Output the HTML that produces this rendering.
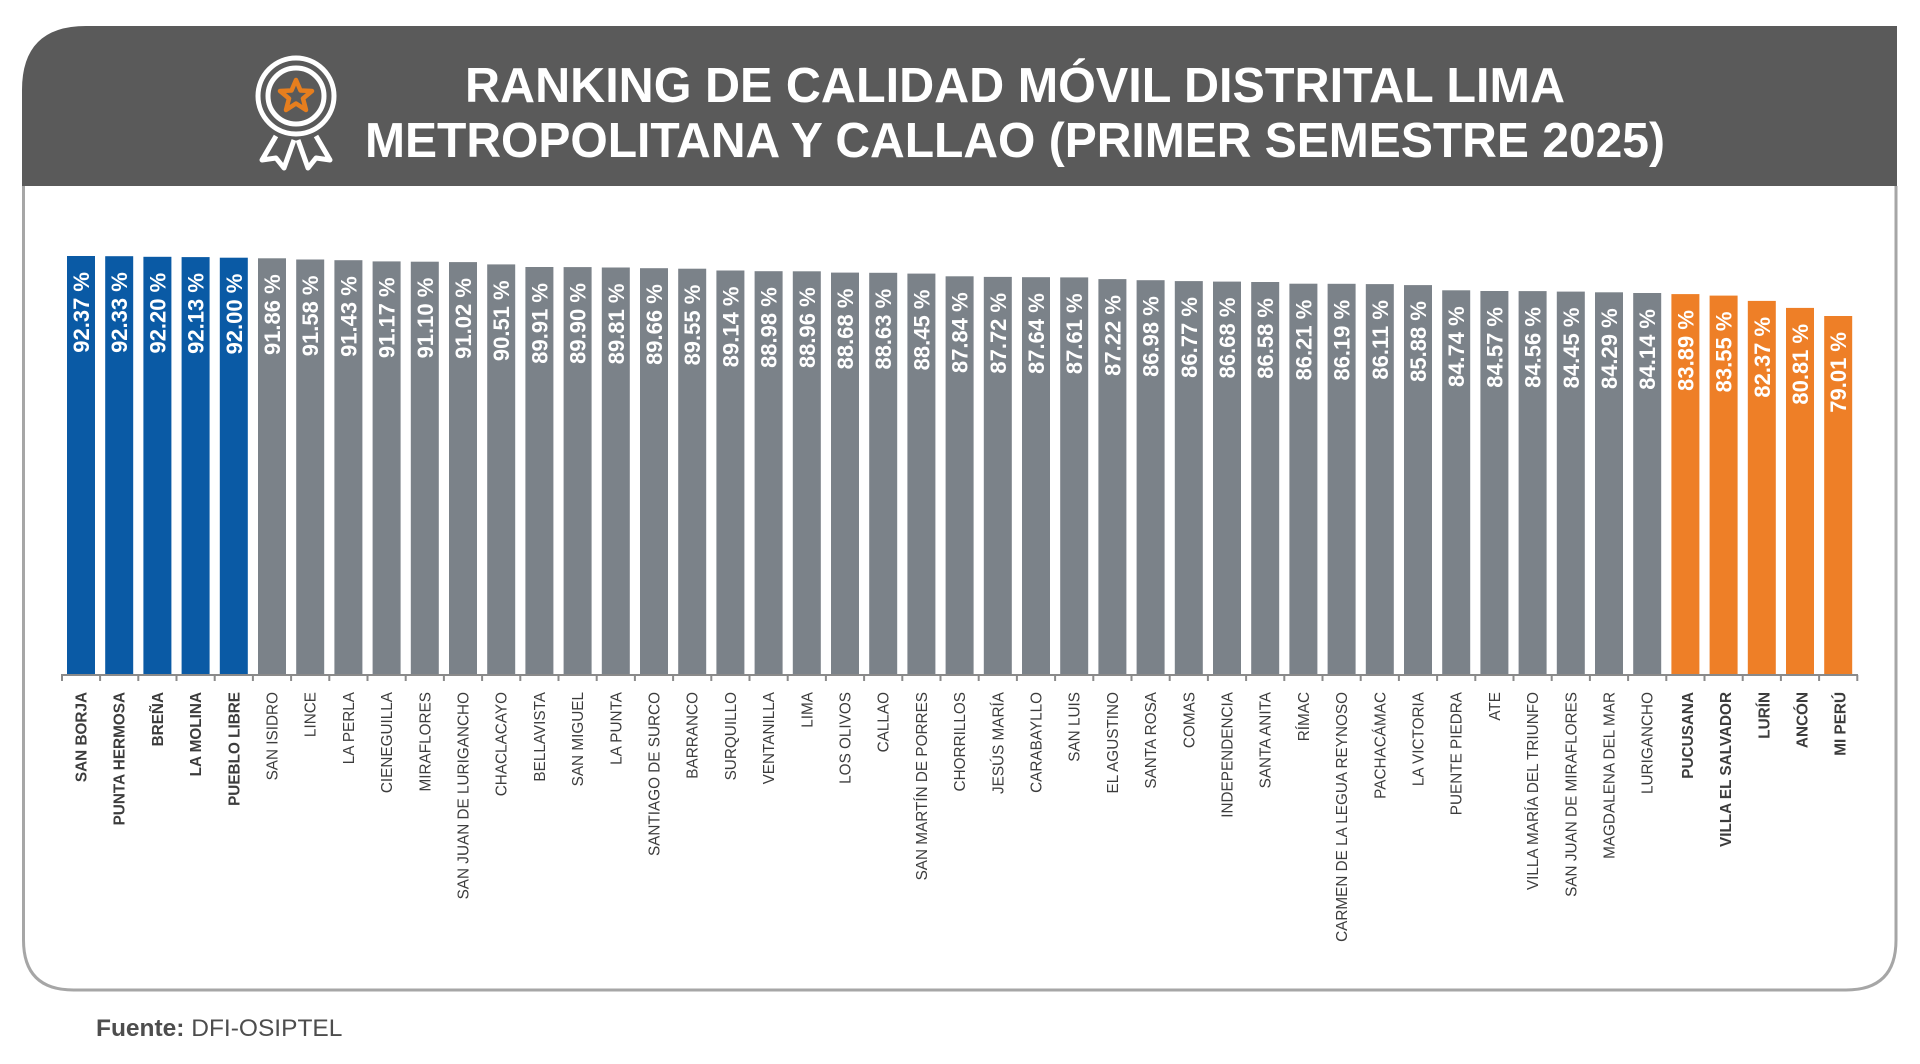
<!DOCTYPE html>
<html><head><meta charset="utf-8"><style>
html,body{margin:0;padding:0;background:#fff;}
svg{display:block;}
</style></head><body>
<svg width="1920" height="1064" viewBox="0 0 1920 1064" xmlns="http://www.w3.org/2000/svg" font-family="'Liberation Sans', sans-serif">
<path d="M23.5,186 L23.5,940 Q23.5,990 73.5,990 L1846,990 Q1896,990 1896,940 L1896,186" fill="#fff" stroke="#a6a6a6" stroke-width="3"/>
<path d="M22,186 L22,90 Q22,26 86,26 L1897,26 L1897,186 Z" fill="#5a5a5a"/>
<g fill="none" stroke="#fff" stroke-width="5" stroke-linejoin="round">
<path d="M276,136 L262,160 L276,158 L284,168 L294,140"/>
<path d="M316,136 L330,160 L316,158 L308,168 L298,140"/>
<circle cx="296" cy="96" r="38" fill="#5a5a5a"/>
<circle cx="296" cy="96" r="28"/>
</g>
<polygon points="296,80 300.5,90.5 312,91 303,98.5 306,110 296,103.5 286,110 289,98.5 280,91 291.5,90.5" fill="none" stroke="#e67e1e" stroke-width="4.5" stroke-linejoin="round"/>
<g fill="#fff" font-weight="bold" font-size="49" text-anchor="middle">
<text x="1015" y="102" textLength="1100" lengthAdjust="spacingAndGlyphs">RANKING DE CALIDAD MÓVIL DISTRITAL LIMA</text>
<text x="1015" y="157" textLength="1300" lengthAdjust="spacingAndGlyphs">METROPOLITANA Y CALLAO (PRIMER SEMESTRE 2025)</text>
</g>
<g>
<rect x="67.0" y="256.0" width="28" height="418" fill="#0a5aa5"/>
<rect x="105.2" y="256.2" width="28" height="417.8" fill="#0a5aa5"/>
<rect x="143.4" y="256.8" width="28" height="417.2" fill="#0a5aa5"/>
<rect x="181.6" y="257.1" width="28" height="416.9" fill="#0a5aa5"/>
<rect x="219.8" y="257.7" width="28" height="416.3" fill="#0a5aa5"/>
<rect x="258.0" y="258.3" width="28" height="415.7" fill="#7b8289"/>
<rect x="296.2" y="259.5" width="28" height="414.5" fill="#7b8289"/>
<rect x="334.4" y="260.2" width="28" height="413.8" fill="#7b8289"/>
<rect x="372.6" y="261.4" width="28" height="412.6" fill="#7b8289"/>
<rect x="410.8" y="261.7" width="28" height="412.3" fill="#7b8289"/>
<rect x="449.0" y="262.1" width="28" height="411.9" fill="#7b8289"/>
<rect x="487.2" y="264.4" width="28" height="409.6" fill="#7b8289"/>
<rect x="525.4" y="267.0" width="28" height="407.0" fill="#7b8289"/>
<rect x="563.6" y="267.1" width="28" height="406.9" fill="#7b8289"/>
<rect x="601.8" y="267.5" width="28" height="406.5" fill="#7b8289"/>
<rect x="640.0" y="268.2" width="28" height="405.8" fill="#7b8289"/>
<rect x="678.2" y="268.7" width="28" height="405.3" fill="#7b8289"/>
<rect x="716.4" y="270.5" width="28" height="403.5" fill="#7b8289"/>
<rect x="754.6" y="271.2" width="28" height="402.8" fill="#7b8289"/>
<rect x="792.8" y="271.3" width="28" height="402.7" fill="#7b8289"/>
<rect x="831.0" y="272.6" width="28" height="401.4" fill="#7b8289"/>
<rect x="869.2" y="272.8" width="28" height="401.2" fill="#7b8289"/>
<rect x="907.4" y="273.6" width="28" height="400.4" fill="#7b8289"/>
<rect x="945.6" y="276.3" width="28" height="397.7" fill="#7b8289"/>
<rect x="983.8" y="276.9" width="28" height="397.1" fill="#7b8289"/>
<rect x="1022.0" y="277.2" width="28" height="396.8" fill="#7b8289"/>
<rect x="1060.2" y="277.4" width="28" height="396.6" fill="#7b8289"/>
<rect x="1098.4" y="279.1" width="28" height="394.9" fill="#7b8289"/>
<rect x="1136.6" y="280.2" width="28" height="393.8" fill="#7b8289"/>
<rect x="1174.8" y="281.1" width="28" height="392.9" fill="#7b8289"/>
<rect x="1213.0" y="281.6" width="28" height="392.4" fill="#7b8289"/>
<rect x="1251.2" y="282.0" width="28" height="392.0" fill="#7b8289"/>
<rect x="1289.4" y="283.7" width="28" height="390.3" fill="#7b8289"/>
<rect x="1327.6" y="283.8" width="28" height="390.2" fill="#7b8289"/>
<rect x="1365.8" y="284.1" width="28" height="389.9" fill="#7b8289"/>
<rect x="1404.0" y="285.1" width="28" height="388.9" fill="#7b8289"/>
<rect x="1442.2" y="290.3" width="28" height="383.7" fill="#7b8289"/>
<rect x="1480.4" y="291.0" width="28" height="383.0" fill="#7b8289"/>
<rect x="1518.6" y="291.1" width="28" height="382.9" fill="#7b8289"/>
<rect x="1556.8" y="291.6" width="28" height="382.4" fill="#7b8289"/>
<rect x="1595.0" y="292.3" width="28" height="381.7" fill="#7b8289"/>
<rect x="1633.2" y="293.0" width="28" height="381.0" fill="#7b8289"/>
<rect x="1671.4" y="294.1" width="28" height="379.9" fill="#ee7f27"/>
<rect x="1709.6" y="295.6" width="28" height="378.4" fill="#ee7f27"/>
<rect x="1747.8" y="300.9" width="28" height="373.1" fill="#ee7f27"/>
<rect x="1786.0" y="307.9" width="28" height="366.1" fill="#ee7f27"/>
<rect x="1824.2" y="316.0" width="28" height="358.0" fill="#ee7f27"/>
</g>
<g fill="#fff" font-weight="bold" font-size="22" text-anchor="end">
<text transform="translate(89.0,272.0) rotate(-90)">92.37 %</text>
<text transform="translate(127.2,272.2) rotate(-90)">92.33 %</text>
<text transform="translate(165.4,272.8) rotate(-90)">92.20 %</text>
<text transform="translate(203.6,273.1) rotate(-90)">92.13 %</text>
<text transform="translate(241.8,273.7) rotate(-90)">92.00 %</text>
<text transform="translate(280.0,274.3) rotate(-90)">91.86 %</text>
<text transform="translate(318.2,275.5) rotate(-90)">91.58 %</text>
<text transform="translate(356.4,276.2) rotate(-90)">91.43 %</text>
<text transform="translate(394.6,277.4) rotate(-90)">91.17 %</text>
<text transform="translate(432.8,277.7) rotate(-90)">91.10 %</text>
<text transform="translate(471.0,278.1) rotate(-90)">91.02 %</text>
<text transform="translate(509.2,280.4) rotate(-90)">90.51 %</text>
<text transform="translate(547.4,283.0) rotate(-90)">89.91 %</text>
<text transform="translate(585.6,283.1) rotate(-90)">89.90 %</text>
<text transform="translate(623.8,283.5) rotate(-90)">89.81 %</text>
<text transform="translate(662.0,284.2) rotate(-90)">89.66 %</text>
<text transform="translate(700.2,284.7) rotate(-90)">89.55 %</text>
<text transform="translate(738.4,286.5) rotate(-90)">89.14 %</text>
<text transform="translate(776.6,287.2) rotate(-90)">88.98 %</text>
<text transform="translate(814.8,287.3) rotate(-90)">88.96 %</text>
<text transform="translate(853.0,288.6) rotate(-90)">88.68 %</text>
<text transform="translate(891.2,288.8) rotate(-90)">88.63 %</text>
<text transform="translate(929.4,289.6) rotate(-90)">88.45 %</text>
<text transform="translate(967.6,292.3) rotate(-90)">87.84 %</text>
<text transform="translate(1005.8,292.9) rotate(-90)">87.72 %</text>
<text transform="translate(1044.0,293.2) rotate(-90)">87.64 %</text>
<text transform="translate(1082.2,293.4) rotate(-90)">87.61 %</text>
<text transform="translate(1120.4,295.1) rotate(-90)">87.22 %</text>
<text transform="translate(1158.6,296.2) rotate(-90)">86.98 %</text>
<text transform="translate(1196.8,297.1) rotate(-90)">86.77 %</text>
<text transform="translate(1235.0,297.6) rotate(-90)">86.68 %</text>
<text transform="translate(1273.2,298.0) rotate(-90)">86.58 %</text>
<text transform="translate(1311.4,299.7) rotate(-90)">86.21 %</text>
<text transform="translate(1349.6,299.8) rotate(-90)">86.19 %</text>
<text transform="translate(1387.8,300.1) rotate(-90)">86.11 %</text>
<text transform="translate(1426.0,301.1) rotate(-90)">85.88 %</text>
<text transform="translate(1464.2,306.3) rotate(-90)">84.74 %</text>
<text transform="translate(1502.4,307.0) rotate(-90)">84.57 %</text>
<text transform="translate(1540.6,307.1) rotate(-90)">84.56 %</text>
<text transform="translate(1578.8,307.6) rotate(-90)">84.45 %</text>
<text transform="translate(1617.0,308.3) rotate(-90)">84.29 %</text>
<text transform="translate(1655.2,309.0) rotate(-90)">84.14 %</text>
<text transform="translate(1693.4,310.1) rotate(-90)">83.89 %</text>
<text transform="translate(1731.6,311.6) rotate(-90)">83.55 %</text>
<text transform="translate(1769.8,316.9) rotate(-90)">82.37 %</text>
<text transform="translate(1808.0,323.9) rotate(-90)">80.81 %</text>
<text transform="translate(1846.2,332.0) rotate(-90)">79.01 %</text>
</g>
<g stroke="#8a8a8a" stroke-width="2">
<line x1="61" y1="675" x2="1858" y2="675"/>
<path d="M62,675v6 M100.1,675v6 M138.3,675v6 M176.5,675v6 M214.7,675v6 M252.9,675v6 M291.1,675v6 M329.3,675v6 M367.5,675v6 M405.7,675v6 M443.9,675v6 M482.1,675v6 M520.3,675v6 M558.5,675v6 M596.7,675v6 M634.9,675v6 M673.1,675v6 M711.3,675v6 M749.5,675v6 M787.7,675v6 M825.9,675v6 M864.1,675v6 M902.3,675v6 M940.5,675v6 M978.7,675v6 M1016.9,675v6 M1055.1,675v6 M1093.3,675v6 M1131.5,675v6 M1169.7,675v6 M1207.9,675v6 M1246.1,675v6 M1284.3,675v6 M1322.5,675v6 M1360.7,675v6 M1398.9,675v6 M1437.1,675v6 M1475.3,675v6 M1513.5,675v6 M1551.7,675v6 M1589.9,675v6 M1628.1,675v6 M1666.3,675v6 M1704.5,675v6 M1742.7,675v6 M1780.9,675v6 M1819.1,675v6 M1857.3,675v6"/>
</g>
<g fill="#3c3c3c" font-size="15.3" text-anchor="end">
<g font-weight="bold">
<text transform="translate(86.5,692) rotate(-90)">SAN BORJA</text>
<text transform="translate(124.7,692) rotate(-90)">PUNTA HERMOSA</text>
<text transform="translate(162.9,692) rotate(-90)">BREÑA</text>
<text transform="translate(201.1,692) rotate(-90)">LA MOLINA</text>
<text transform="translate(239.3,692) rotate(-90)">PUEBLO LIBRE</text>
<text transform="translate(1692.9,692) rotate(-90)">PUCUSANA</text>
<text transform="translate(1731.1,692) rotate(-90)">VILLA EL SALVADOR</text>
<text transform="translate(1769.3,692) rotate(-90)">LURÍN</text>
<text transform="translate(1807.5,692) rotate(-90)">ANCÓN</text>
<text transform="translate(1845.7,692) rotate(-90)">MI PERÚ</text>
</g>
<text transform="translate(277.5,692) rotate(-90)">SAN ISIDRO</text>
<text transform="translate(315.7,692) rotate(-90)">LINCE</text>
<text transform="translate(353.9,692) rotate(-90)">LA PERLA</text>
<text transform="translate(392.1,692) rotate(-90)">CIENEGUILLA</text>
<text transform="translate(430.3,692) rotate(-90)">MIRAFLORES</text>
<text transform="translate(468.5,692) rotate(-90)">SAN JUAN DE LURIGANCHO</text>
<text transform="translate(506.7,692) rotate(-90)">CHACLACAYO</text>
<text transform="translate(544.9,692) rotate(-90)">BELLAVISTA</text>
<text transform="translate(583.1,692) rotate(-90)">SAN MIGUEL</text>
<text transform="translate(621.3,692) rotate(-90)">LA PUNTA</text>
<text transform="translate(659.5,692) rotate(-90)">SANTIAGO DE SURCO</text>
<text transform="translate(697.7,692) rotate(-90)">BARRANCO</text>
<text transform="translate(735.9,692) rotate(-90)">SURQUILLO</text>
<text transform="translate(774.1,692) rotate(-90)">VENTANILLA</text>
<text transform="translate(812.3,692) rotate(-90)">LIMA</text>
<text transform="translate(850.5,692) rotate(-90)">LOS OLIVOS</text>
<text transform="translate(888.7,692) rotate(-90)">CALLAO</text>
<text transform="translate(926.9,692) rotate(-90)">SAN MARTÍN DE PORRES</text>
<text transform="translate(965.1,692) rotate(-90)">CHORRILLOS</text>
<text transform="translate(1003.3,692) rotate(-90)">JESÚS MARÍA</text>
<text transform="translate(1041.5,692) rotate(-90)">CARABAYLLO</text>
<text transform="translate(1079.7,692) rotate(-90)">SAN LUIS</text>
<text transform="translate(1117.9,692) rotate(-90)">EL AGUSTINO</text>
<text transform="translate(1156.1,692) rotate(-90)">SANTA ROSA</text>
<text transform="translate(1194.3,692) rotate(-90)">COMAS</text>
<text transform="translate(1232.5,692) rotate(-90)">INDEPENDENCIA</text>
<text transform="translate(1270.7,692) rotate(-90)">SANTA ANITA</text>
<text transform="translate(1308.9,692) rotate(-90)">RÍMAC</text>
<text transform="translate(1347.1,692) rotate(-90)">CARMEN DE LA LEGUA REYNOSO</text>
<text transform="translate(1385.3,692) rotate(-90)">PACHACÁMAC</text>
<text transform="translate(1423.5,692) rotate(-90)">LA VICTORIA</text>
<text transform="translate(1461.7,692) rotate(-90)">PUENTE PIEDRA</text>
<text transform="translate(1499.9,692) rotate(-90)">ATE</text>
<text transform="translate(1538.1,692) rotate(-90)">VILLA MARÍA DEL TRIUNFO</text>
<text transform="translate(1576.3,692) rotate(-90)">SAN JUAN DE MIRAFLORES</text>
<text transform="translate(1614.5,692) rotate(-90)">MAGDALENA DEL MAR</text>
<text transform="translate(1652.7,692) rotate(-90)">LURIGANCHO</text>
</g>
<text x="96" y="1036" font-size="24.5" fill="#4d4d4d"><tspan font-weight="bold">Fuente:</tspan> DFI-OSIPTEL</text>
</svg>
</body></html>
